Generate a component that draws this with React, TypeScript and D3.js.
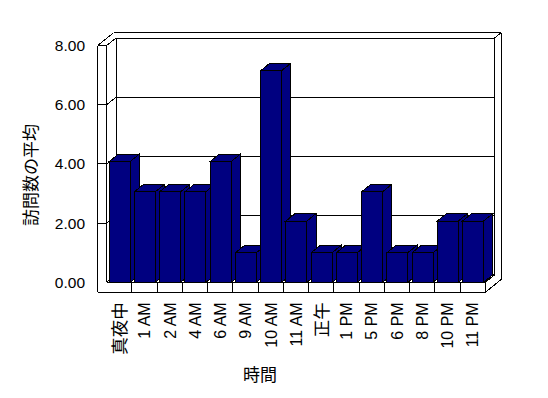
import React from 'react';
import * as d3 from 'd3';

const categories = ['真夜中', '1 AM', '2 AM', '4 AM', '6 AM', '9 AM', '10 AM', '11 AM', '正午', '1 PM', '5 PM', '6 PM', '8 PM', '10 PM', '11 PM'];
const values = [4.08, 3.06, 3.06, 3.06, 4.08, 1.0, 7.15, 2.07, 1.0, 1.0, 3.06, 1.0, 1.0, 2.07, 2.07];
const yTickValues = [0, 2, 4, 6, 8];
const yTickFormat = (v: number) => v.toFixed(2);
const yAxisTitle = '訪問数の平均';
const xAxisTitle = '時間';

const W = 548;
const H = 398;
const plot = { left: 106.7, right: 485.3, top: 45.5, bottom: 282.3 };
const depth = { dx: 9.3, dy: -7.5 };
const wallT = 0.7;
const wallW = 9;
const floorH = 10;
const barColor = '#000080';
const latinFont = '"Liberation Sans", Arial, sans-serif';
const cjkFont = '"Noto Sans CJK JP", "Noto Sans CJK SC", sans-serif';

type Pt = [number, number];

export default function App() {
  const x = d3.scaleBand<string>().domain(categories).range([plot.left, plot.right]).padding(0);
  const y = d3.scaleLinear().domain([0, 8]).range([plot.bottom, plot.top]);
  const bw = x.bandwidth();
  const P = (px: number, py: number, z: number): Pt => [px + z * depth.dx, py + z * depth.dy];
  const pts = (arr: Pt[]) => arr.map((p) => p.join(',')).join(' ');
  const y0 = y(0);
  const yTop = y(8);
  const yFB = y0 + floorH;
  const xLW = plot.left - wallW;
  const xL = plot.left;
  const xR = plot.right;

  const lines: [Pt, Pt][] = [];
  yTickValues.forEach((v) => lines.push([P(xL, y(v), 1), P(xR, y(v), 1)]));
  lines.push([P(xL, yTop, 1), P(xL, y0, 1)]);
  lines.push([P(xR, yTop, 1), P(xR, y0, 1)]);
  yTickValues.forEach((v) => lines.push([P(xL, y(v), 0), P(xL, y(v), 1)]));
  lines.push([[xL, yTop], [xL, y0]]);
  lines.push([[xLW, yTop], [xLW, yFB]]);
  yTickValues.filter((v) => v > 0).forEach((v) => lines.push([[xLW, y(v)], [xL, y(v)]]));
  lines.push([P(xLW, yTop, 0), P(xLW, yTop, 1 + wallT)]);
  lines.push([P(xLW, yTop, 1 + wallT), P(xR, yTop, 1 + wallT)]);
  lines.push([P(xR, yTop, 1), P(xR, yTop, 1 + wallT)]);
  lines.push([P(xR, yTop, 1 + wallT), P(xR, yFB, 1 + wallT)]);
  lines.push([[xL, y0], [xR, y0]]);
  lines.push([[xLW, yFB], [xR, yFB]]);
  lines.push([[xR, y0], [xR, yFB]]);
  categories.slice(1).forEach((c) => lines.push([[x(c)!, y0], [x(c)!, yFB]]));
  lines.push([P(xR, y0, 0), P(xR, y0, 1)]);
  lines.push([P(xR, yFB, 0), P(xR, yFB, 1 + wallT)]);

  return (
    <svg width={W} height={H} style={{ position: 'absolute', left: 0, top: 0, background: '#fff' }}>
      <rect x={0} y={0} width={W} height={H} fill="#fff" />
      <g stroke="#000" strokeWidth={1} shapeRendering="crispEdges" fill="none">
        {lines.map((l, i) => (
          <line key={i} x1={l[0][0]} y1={l[0][1]} x2={l[1][0]} y2={l[1][1]} />
        ))}
      </g>
      <g stroke="#000" strokeWidth={1} fill={barColor} shapeRendering="crispEdges">
        {categories.map((c, i) => {
          const bx = x(c)! + bw * 0.1;
          const bwid = bw * 0.83;
          const yt = y(values[i]);
          const front: Pt[] = [[bx, yt], [bx + bwid, yt], [bx + bwid, y0], [bx, y0]];
          const side: Pt[] = [P(bx + bwid, yt, 0), P(bx + bwid, yt, 1), P(bx + bwid, y0, 1), P(bx + bwid, y0, 0)];
          const top: Pt[] = [P(bx, yt, 0), P(bx + bwid, yt, 0), P(bx + bwid, yt, 1), P(bx, yt, 1)];
          return (
            <g key={c}>
              <polygon points={pts(side)} />
              <polygon points={pts(top)} />
              <polygon points={pts(front)} />
            </g>
          );
        })}
      </g>
      <g fontFamily={latinFont} fill="#000">
        {yTickValues.map((v) => (
          <text key={v} x={85} y={y(v)} textAnchor="end" dy="0.35em" fontSize={15.5}>
            {yTickFormat(v)}
          </text>
        ))}
        {categories.map((c) => {
          const cjk = /[^\x00-\x7f]/.test(c);
          return (
            <text
              key={c}
              transform={`translate(${x(c)! + bw / 2},${y0 + floorH + 10}) rotate(-90)`}
              textAnchor="end"
              dy="0.36em"
              fontFamily={cjk ? cjkFont : latinFont}
              fontSize={cjk ? 17.5 : 16}
            >
              {c}
            </text>
          );
        })}
      </g>
      <text
        transform={`translate(31,175) rotate(-90)`}
        textAnchor="middle"
        dy="0.36em"
        fontFamily={cjkFont}
        fontSize={17}
      >
        {yAxisTitle}
      </text>
      <text x={260} y={375} textAnchor="middle" dy="0.36em" fontFamily={cjkFont} fontSize={17}>
        {xAxisTitle}
      </text>
    </svg>
  );
}
